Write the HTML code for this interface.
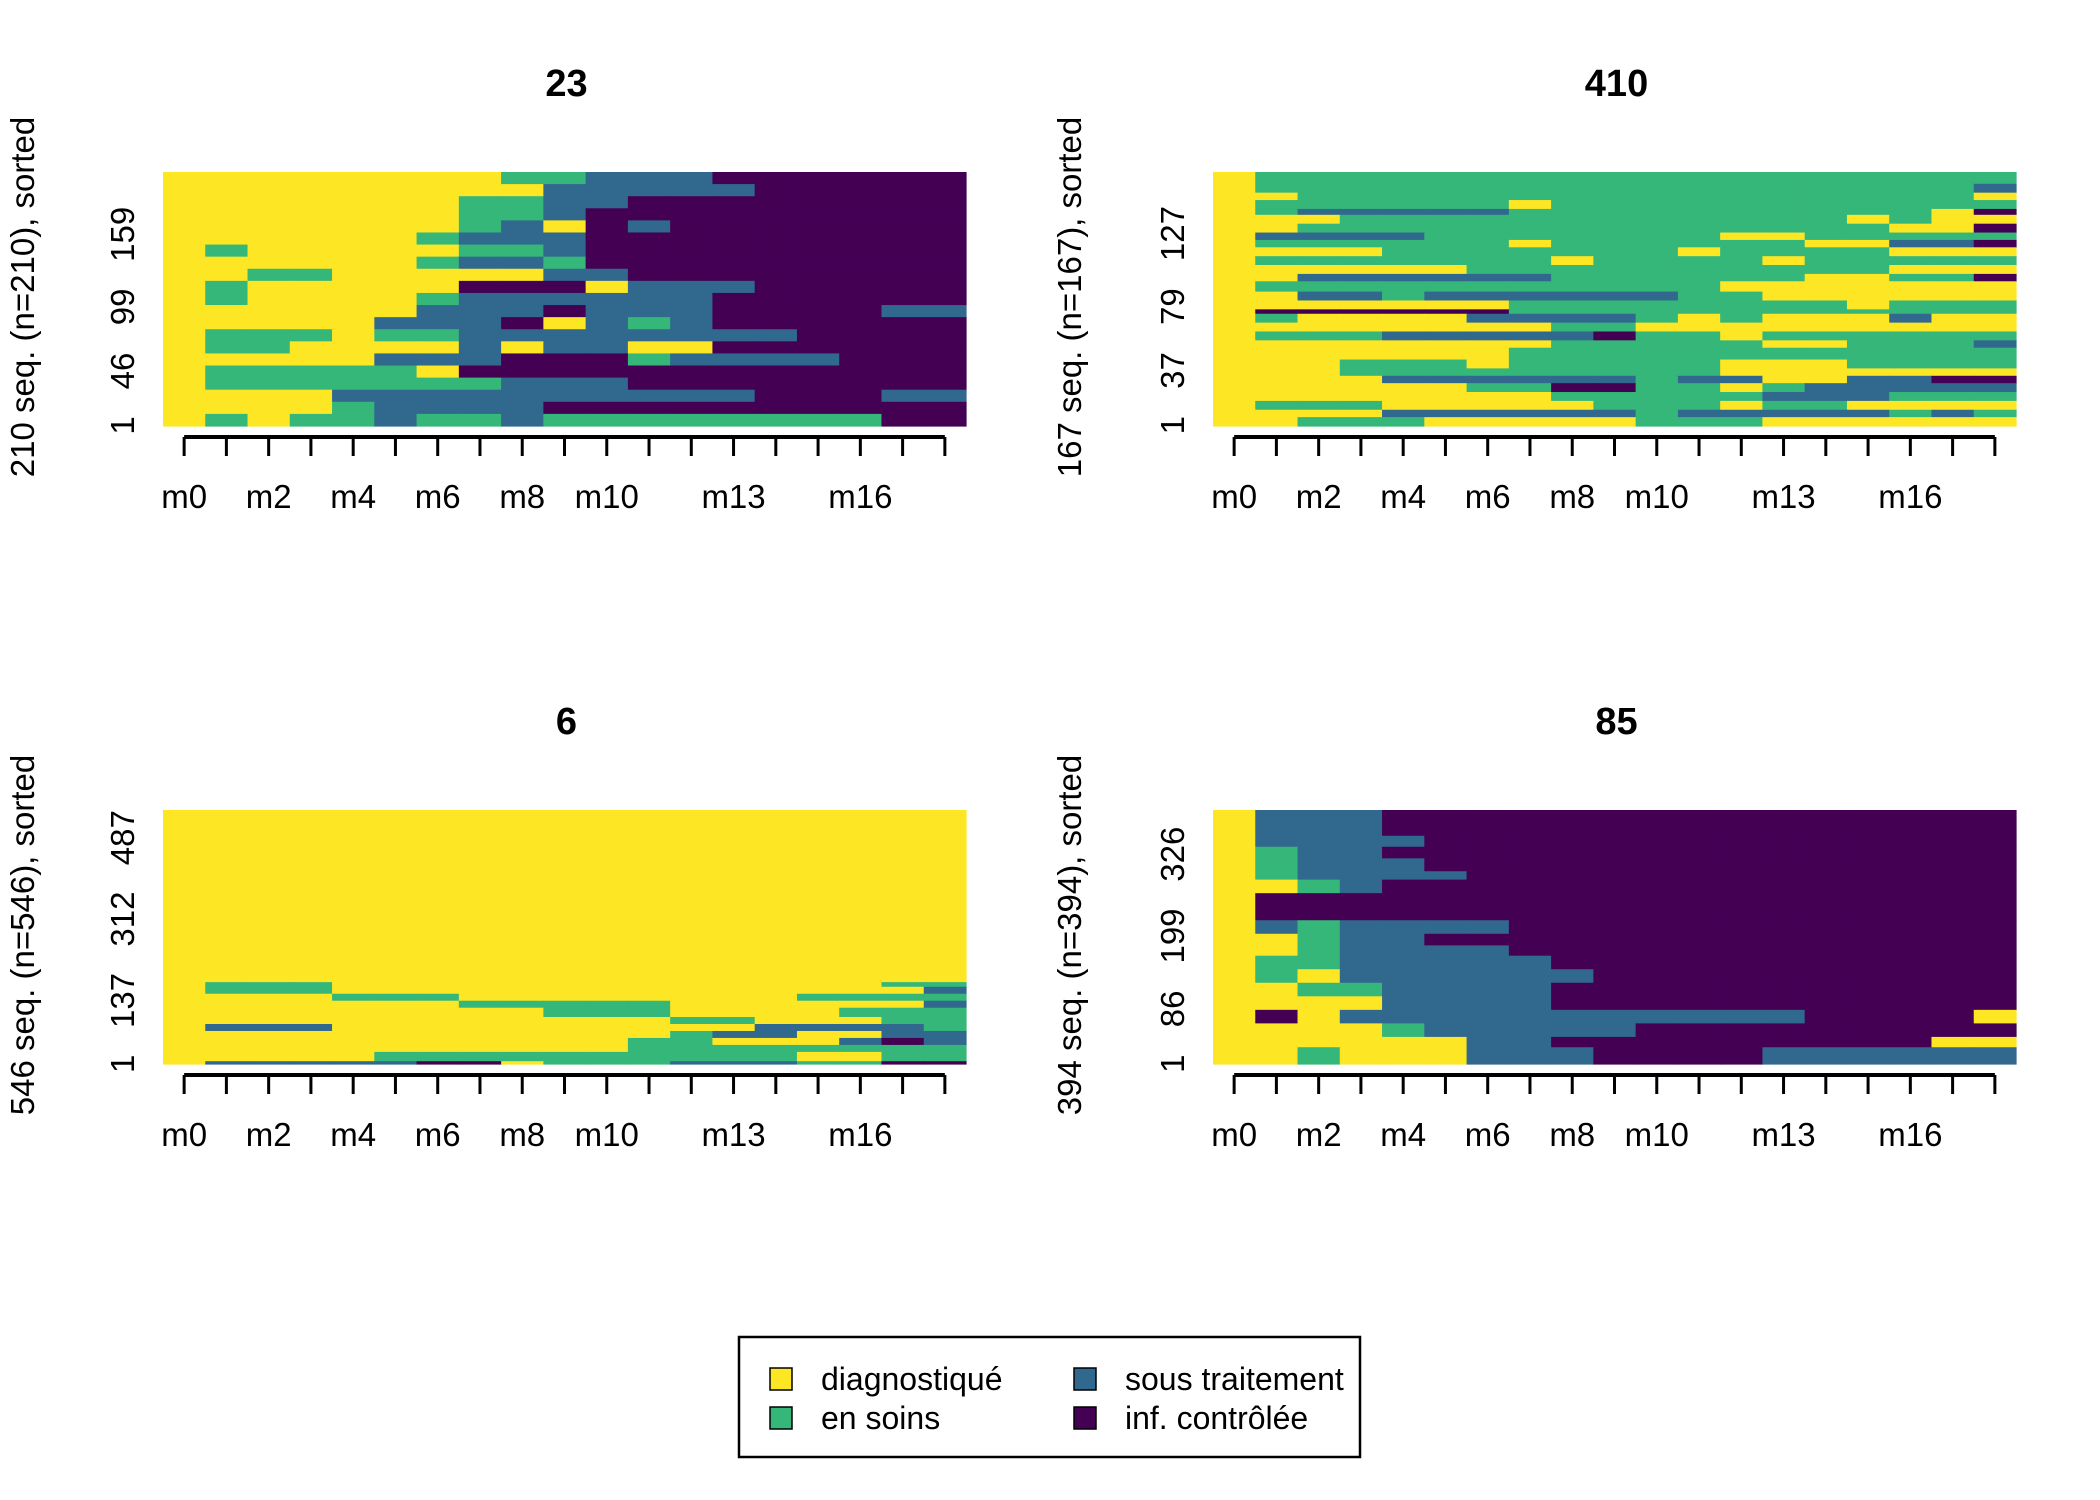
<!DOCTYPE html>
<html><head><meta charset="utf-8">
<style>
html,body{margin:0;padding:0;background:#fff;}
svg{display:block;font-family:"Liberation Sans",Arial,sans-serif;}
</style></head>
<body>
<svg id="chart" width="2100" height="1500" viewBox="0 0 2100 1500" xmlns="http://www.w3.org/2000/svg">
<rect width="2100" height="1500" fill="#fff"/>
<g id="legend">
  <rect x="739" y="1337" width="621" height="120" fill="#fff" stroke="#000" stroke-width="2.5"/>
  <g><rect x="770" y="1368" width="22" height="22" fill="#FDE725" stroke="#000" stroke-width="1.5"/><text x="821" y="1390" font-size="32">diagnostiqué</text></g>
  <g><rect x="770" y="1407" width="22" height="22" fill="#35B779" stroke="#000" stroke-width="1.5"/><text x="821" y="1429" font-size="32">en soins</text></g>
  <g><rect x="1074" y="1368" width="22" height="22" fill="#31688E" stroke="#000" stroke-width="1.5"/><text x="1125" y="1390" font-size="32">sous traitement</text></g>
  <g><rect x="1074" y="1407" width="22" height="22" fill="#440154" stroke="#000" stroke-width="1.5"/><text x="1125" y="1429" font-size="32">inf. contrôlée</text></g>
</g>
</svg>
<script>
// Data: bands of sequences (top -> bottom): [row count, states m0..m18]
// D=diagnostiqué, S=en soins, T=sous traitement, C=inf. contrôlée
const months = ["m0","m1","m2","m3","m4","m5","m6","m7","m8","m9","m10","m11","m12","m13","m14","m15","m16","m17","m18"];
const monthLabels = ["m0","m2","m4","m6","m8","m10","m13","m16"];
const panelTitles = ["23","410","6","85"];
const panelN = [210,167,546,394];
const yTicks1 = [1,46,99,159];
const yTicks2 = [1,37,79,127];
const yTicks3 = [1,137,312,487];
const yTicks4 = [1,86,199,326];
const bands1 = [
[10,"DDDDDDDDSSTTTCCCCCC"],[10,"DDDDDDDDDTTTTTCCCCC"],[10,"DDDDDDDSSTTCCCCCCCC"],[10,"DDDDDDDSSTCCCCCCCCC"],
[10,"DDDDDDDSTDCTCCCCCCC"],[10,"DDDDDDSTTTCCCCCCCCC"],[10,"DSDDDDDSSTCCCCCCCCC"],[10,"DDDDDDSTTSCCCCCCCCC"],
[10,"DDSSDDDDDTTCCCCCCCC"],[10,"DSDDDDDCCCDTTTCCCCC"],[10,"DSDDDDSTTTTTTCCCCCC"],[10,"DDDDDDTTTCTTTCCCCTT"],
[10,"DDDDDTTTCDTSTCCCCCC"],[10,"DSSSDSSTTTTTTTTCCCC"],[10,"DSSDDDDTDTTDDCCCCCC"],[10,"DDDDDTTTCCCSTTTTCCC"],
[10,"DSSSSSDCCCCCCCCCCCC"],[10,"DSSSSSSSTTTCCCCCCCC"],[10,"DDDDTTTTTTTTTTCCCTT"],[10,"DDDDSTTTTCCCCCCCCCC"],
[10,"DSDSSTSSTSSSSSSSSCC"]];
const bands2 = [
[8,"DSSSSSSSSSSSSSSSSSS"],[6,"DSSSSSSSSSSSSSSSSST"],[5,"DDSSSSSSSSSSSSSSSSD"],[6,"DSSSSSSDSSSSSSSSSSS"],
[4,"DSTTTTTSSSSSSSSSSDC"],[6,"DDDSSSSSSSSSSSSDSDD"],[6,"DDSSSSSSSSSSSSSSDDC"],[5,"DTTTTSSSSSSSDDSSSSS"],
[5,"DSSSSSSDSSSSSSDDTTC"],[6,"DDDDSSSSSSSDSSSSDDD"],[6,"DSSSSSSSDSSSSDSSSSS"],[6,"DDDDDDSSSSSSSSSSDDD"],
[5,"DDTTTTTTSSSSSSDDSSC"],[7,"DSSSSSSSSSSSDDDDDDD"],[6,"DDTTSTTTTTTSSDDDDDD"],[6,"DDDDDDDSSSSSSSSDSSS"],
[3,"DCCCCCCSSSSSSSSSSSS"],[6,"DSDDDDTTTTSDSDDDTDD"],[6,"DDDDDDDDSSDDDDDDDDD"],[6,"DSSSTTTTTCSSDSSSSSS"],
[5,"DDDDDDDDSSSSSDDSSST"],[8,"DDDDDDDSSSSSSSSSSSS"],[6,"DDDSSSDSSSSSDDDSSSS"],[5,"DDDSSSSSSSSSDDDDDDD"],
[5,"DDDDTTTTTTSTTDDTTCC"],[6,"DDDDDDSSCCSSDSTTTTT"],[6,"DDDDDDDDSSSSSTTTSSS"],[6,"DSSSDDDDDSSSDSSDDDD"],
[5,"DDDDTTTTTTSTTTTTSTS"],[6,"DDSSSDDDDDSSSDDDDDD"]];
const bands3 = [
[370,"DDDDDDDDDDDDDDDDDDD"],[10,"DSSSDDDDDDDDDDDDDSS"],[15,"DSSSDDDDDDDDDDDDDDT"],[15,"DDDDSSSDDDDDDDDSSSS"],
[15,"DDDDDDDSSSSSDDDDDDT"],[20,"DDDDDDDDDSSSDDDDSSS"],[15,"DDDDDDDDDDDDSSDDDSS"],[15,"DTTTDDDDDDDDDDTTTTS"],
[15,"DDDDDDDDDDDDSTTDDTT"],[15,"DDDDDDDDDDDSSDDDTCT"],[15,"DDDDDDDDDDDSSSSSSSS"],[20,"DDDDDSSSSSSSSSSDDSS"],
[6,"DTTTTTCCDSSSTTTSSCC"]];
const bands4 = [
[40,"DTTTCCCCCCCCCCCCCCC"],[17,"DTTTTCCCCCCCCCCCCCC"],[18,"DSTTCCCCCCCCCCCCCCC"],[20,"DSTTTCCCCCCCCCCCCCC"],
[13,"DSTTTTCCCCCCCCCCCCC"],[21,"DDSTCCCCCCCCCCCCCCC"],[42,"DCCCCCCCCCCCCCCCCCC"],[21,"DTSTTTTCCCCCCCCCCCC"],
[18,"DDSTTCCCCCCCCCCCCCC"],[16,"DDSTTTTCCCCCCCCCCCC"],[21,"DSSTTTTTCCCCCCCCCCC"],[21,"DSDTTTTTTCCCCCCCCCC"],
[21,"DDSSTTTTCCCCCCCCCCC"],[21,"DDDDTTTTCCCCCCCCCCC"],[21,"DCDTTTTTTTTTTTCCCCD"],[21,"DDDDSTTTTTCCCCCCCCC"],
[16,"DDDDDDTTCCCCCCCCCDD"],[26,"DDSDDDTTTCCCCTTTTTT"]];

const colors = {D:"#FDE725",S:"#35B779",T:"#31688E",C:"#440154"};
const NS = "http://www.w3.org/2000/svg";
const svg = document.getElementById("chart");
const panels = [
  {x:163,y:172,bands:bands1,ticks:yTicks1,ylabX:34},
  {x:1213,y:172,bands:bands2,ticks:yTicks2,ylabX:1081},
  {x:163,y:810,bands:bands3,ticks:yTicks3,ylabX:34},
  {x:1213,y:810,bands:bands4,ticks:yTicks4,ylabX:1081}
];
const PW = 803, PH = 254;
function mk(tag, attrs, parent){
  const e = document.createElementNS(NS, tag);
  for (const k in attrs) e.setAttribute(k, attrs[k]);
  parent.appendChild(e);
  return e;
}
panels.forEach((p, pi) => {
  const g = mk("g", {}, svg);
  
  
  const total = p.bands.reduce((s,b)=>s+b[0],0);
  const n = panelN[pi];
  const colW = PW / months.length;
  const xScale = i => p.x + i*colW;
  const yRow = r => p.y + r/total*PH;
  let r = 0;
  p.bands.forEach((b, bi) => {
    const y0 = yRow(r), y1 = yRow(r + b[0]);
    for (let i = 0; i < months.length; i++) {
      const rc = mk("rect", {x:xScale(i).toFixed(2), y:y0.toFixed(2), width:(colW+0.6).toFixed(2), height:(y1-y0+0.6).toFixed(2), fill:colors[b[1][i]]}, g);
      
      
    }
    r += b[0];
  });
  const axY = p.y + 265;
  const ax = mk("g", {}, g);
  
  
  const c0 = xScale(0.5), cN = xScale(months.length - 0.5);
  mk("line", {x1:c0, x2:cN, y1:axY, y2:axY, stroke:"#000", "stroke-width":4}, ax);
  months.forEach((m, i) => {
    const cx = xScale(i + 0.5);
    const t = mk("line", {x1:cx, x2:cx, y1:axY, y2:axY+19, stroke:"#000", "stroke-width":3}, ax);
    
    
    if (monthLabels.includes(m)) {
      const tl = mk("text", {x:cx, y:axY+71, "font-size":33, "text-anchor":"middle"}, ax);
      tl.textContent = m;
      
      
    }
  });
  p.ticks.forEach(v => {
    const yy = p.y + PH - (v - 0.5)/n*PH;
    const tl = mk("text", {x:0, y:0, "font-size":33, "text-anchor":"middle", transform:`translate(${p.x-29},${yy.toFixed(1)}) rotate(-90)`}, g);
    tl.textContent = v;
    
    
  });
  const yt = mk("text", {x:0, y:0, "font-size":33, "text-anchor":"middle", transform:`translate(${p.ylabX},${p.y+PH/2-2}) rotate(-90)`}, g);
  yt.textContent = `${n} seq. (n=${n}), sorted`;
  
  
  const tt = mk("text", {x:p.x + PW/2 + 2, y:p.y - 76, "font-size":38, "font-weight":"bold", "text-anchor":"middle"}, g);
  tt.textContent = panelTitles[pi];
  
  
});
</script>
</body></html>
